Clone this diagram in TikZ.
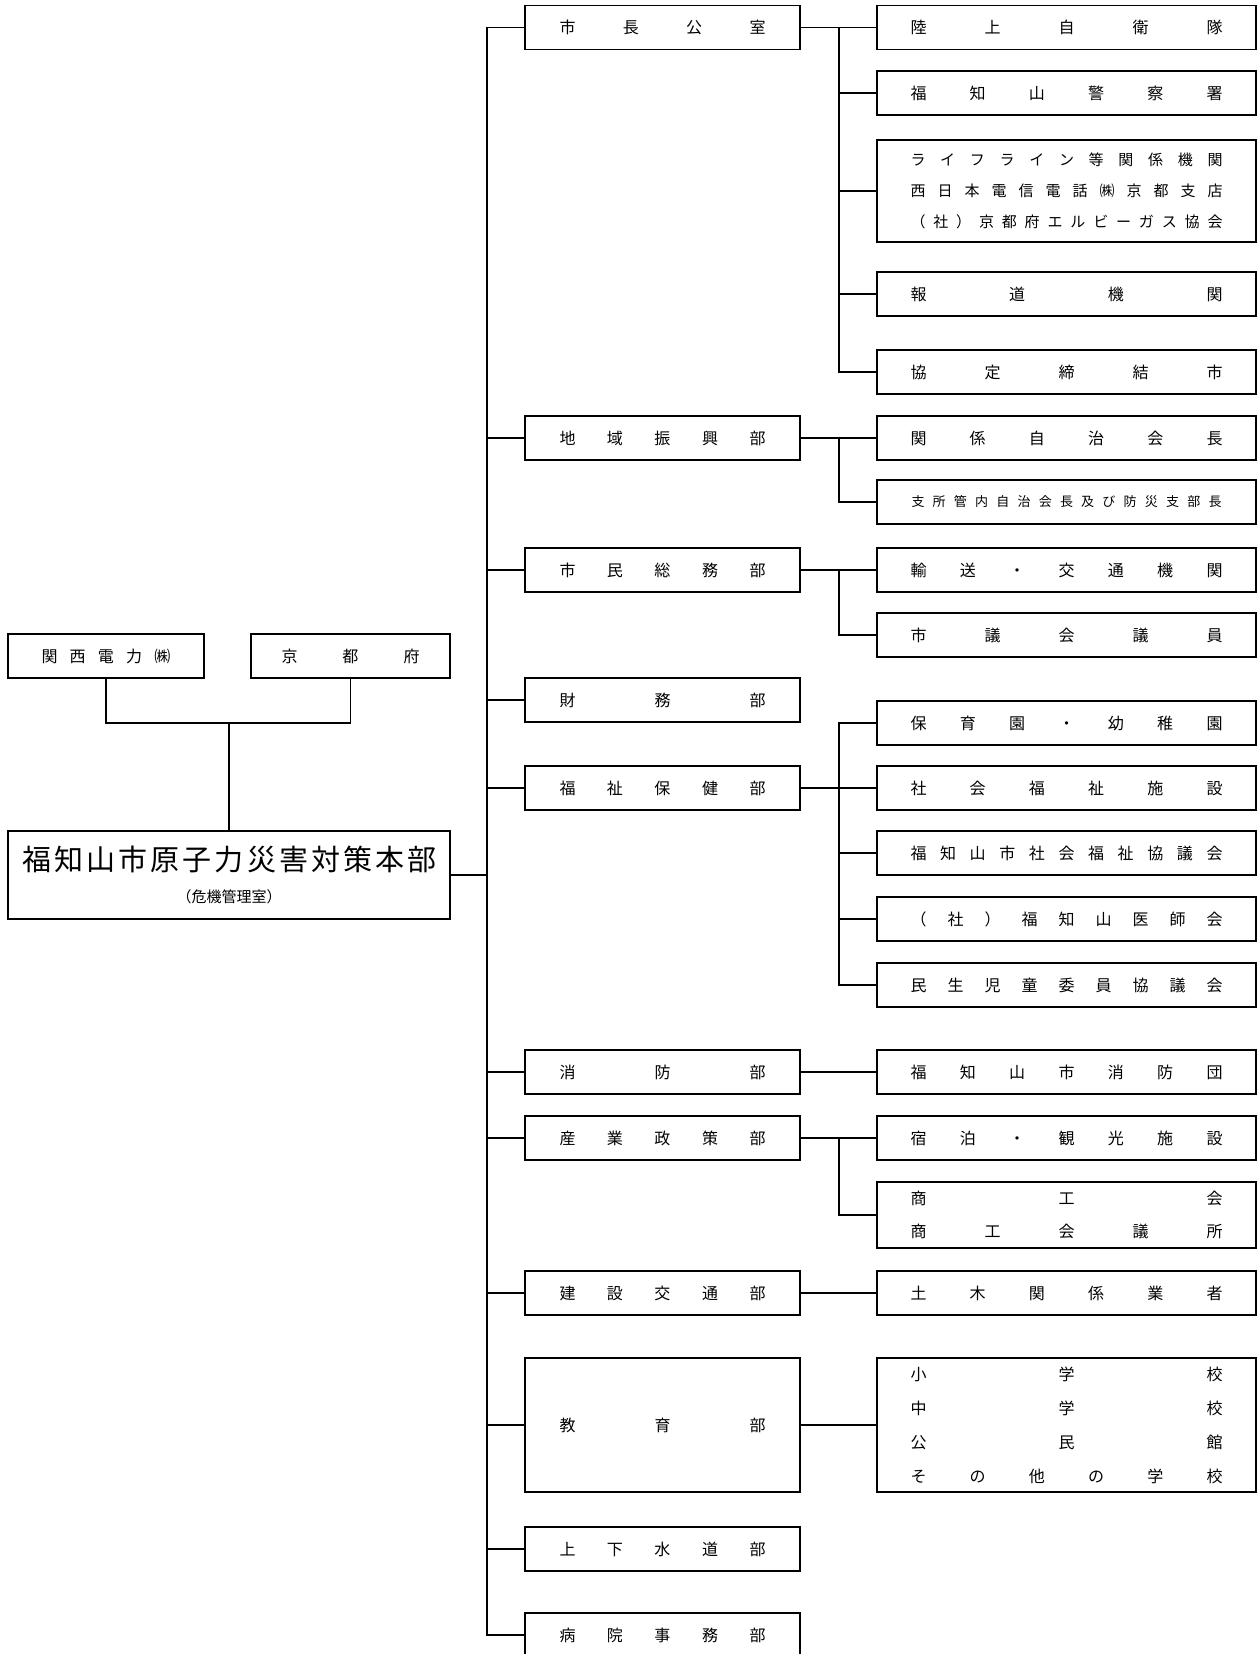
\documentclass[tikz,border=0pt]{standalone}
\usepackage{fontspec}
\setmainfont{Noto Sans CJK JP}
\makeatletter
\def\spr@a#1{#1\futurelet\spr@next\spr@b}
\def\spr@b{\ifx\spr@next\relax\expandafter\spr@end\else\hfill\expandafter\spr@a\fi}
\def\spr@end\relax{}
\newcommand\spreadtext[2]{\makebox[#1]{\spr@a#2\relax}}
\makeatother
\begin{document}
\begin{tikzpicture}[x=1pt,y=-1pt,
  box/.style={draw, line width=1.5pt, inner sep=0pt, align=center, font=\fontsize{16}{18}\selectfont},
  midbox/.style={box, minimum width=275pt, minimum height=44pt},
  rbox/.style={box, minimum width=379pt, minimum height=44pt},
  link/.style={line width=1.5pt}]
\fill[white] (0,0) rectangle (1260,1654);
\useasboundingbox (0,0) rectangle (1260,1654);

% top-left
\node[box, minimum width=196pt, minimum height=44pt] (kansai) at (106,656) {\spreadtext{129pt}{関西電力㈱}};
\node[box, minimum width=199pt, minimum height=44pt] (kyoto) at (350.5,656) {\spreadtext{138pt}{京都府}};
\node[box, minimum width=442pt, minimum height=88pt] (hq) at (229,875) {};
\node[font=\fontsize{29}{31}\selectfont, inner sep=0pt] (hqtitle) at (229.5,859) {\spreadtext{415pt}{福知山市原子力災害対策本部}};
\node[font=\fontsize{15}{17}\selectfont, inner sep=0pt] (hqsub) at (229,897) {（危機管理室）};

% middle column
\node[midbox] (m1) at (662.5,27.5) {\spreadtext{206pt}{市長公室}};
\node[midbox] (m2) at (662.5,438) {\spreadtext{206pt}{地域振興部}};
\node[midbox] (m3) at (662.5,570) {\spreadtext{206pt}{市民総務部}};
\node[midbox] (m4) at (662.5,700) {\spreadtext{206pt}{財務部}};
\node[midbox] (m5) at (662.5,788) {\spreadtext{206pt}{福祉保健部}};
\node[midbox] (m6) at (662.5,1072) {\spreadtext{206pt}{消防部}};
\node[midbox] (m7) at (662.5,1138) {\spreadtext{206pt}{産業政策部}};
\node[midbox] (m8) at (662.5,1293) {\spreadtext{206pt}{建設交通部}};
\node[midbox, minimum height=134pt] (m9) at (662.5,1425) {\spreadtext{206pt}{教育部}};
\node[midbox] (m10) at (662.5,1549) {\spreadtext{206pt}{上下水道部}};
\node[midbox] (m11) at (662.5,1635) {\spreadtext{206pt}{病院事務部}};

% right column
\node[rbox] (r1) at (1066.5,27.5) {\spreadtext{312pt}{陸上自衛隊}};
\node[rbox] (r2) at (1066.5,93) {\spreadtext{312pt}{福知山警察署}};
\node[rbox, minimum height=102pt, font=\fontsize{15}{31}\selectfont] (r3) at (1066.5,191)
  {\spreadtext{312pt}{ライフライン等関係機関}\\\spreadtext{312pt}{西日本電信電話㈱京都支店}\\\spreadtext{312pt}{（社）京都府エルビーガス協会}};
\node[rbox] (r4) at (1066.5,294) {\spreadtext{312pt}{報道機関}};
\node[rbox] (r5) at (1066.5,372) {\spreadtext{312pt}{協定締結市}};
\node[rbox] (r6) at (1066.5,438) {\spreadtext{312pt}{関係自治会長}};
\node[rbox, font=\fontsize{13}{15}\selectfont] (r7) at (1066.5,502) {\spreadtext{310pt}{支所管内自治会長及び防災支部長}};
\node[rbox] (r8) at (1066.5,570) {\spreadtext{312pt}{輸送・交通機関}};
\node[rbox] (r9) at (1066.5,635) {\spreadtext{312pt}{市議会議員}};
\node[rbox] (r10) at (1066.5,723) {\spreadtext{312pt}{保育園・幼稚園}};
\node[rbox] (r11) at (1066.5,788) {\spreadtext{312pt}{社会福祉施設}};
\node[rbox] (r12) at (1066.5,853) {\spreadtext{312pt}{福知山市社会福祉協議会}};
\node[rbox] (r13) at (1066.5,919) {\spreadtext{312pt}{（社）福知山医師会}};
\node[rbox] (r14) at (1066.5,985) {\spreadtext{312pt}{民生児童委員協議会}};
\node[rbox] (r15) at (1066.5,1072) {\spreadtext{312pt}{福知山市消防団}};
\node[rbox] (r16) at (1066.5,1138) {\spreadtext{312pt}{宿泊・観光施設}};
\node[rbox, minimum height=66pt, font=\fontsize{16}{33}\selectfont] (r17) at (1066.5,1215)
  {\spreadtext{312pt}{商工会}\\\spreadtext{312pt}{商工会議所}};
\node[rbox] (r18) at (1066.5,1293) {\spreadtext{312pt}{土木関係業者}};
\node[rbox, minimum height=134pt, font=\fontsize{16}{34}\selectfont] (r19) at (1066.5,1425)
  {\spreadtext{312pt}{小学校}\\\spreadtext{312pt}{中学校}\\\spreadtext{312pt}{公民館}\\\spreadtext{312pt}{その他の学校}};

% connectors
\coordinate (J) at (229,723);
\coordinate (T) at (487,0);
\coordinate (B) at (839,0);
\draw[link] (kansai.south) |- (J);
\draw[link] (kyoto.south) |- (J);
\draw[link] (J) -- (hq.north);
\draw[link] (hq.east) -- (hq.east -| T);
\foreach \m in {m1,m2,m3,m4,m5,m6,m7,m8,m9,m10,m11}
  \draw[link] (hq.east -| T) |- (\m.west);

\draw[link] (m1.east) -- (r1.west);
\foreach \r in {r2,r3,r4,r5} \draw[link] (m1.east -| B) |- (\r.west);
\draw[link] (m2.east) -- (r6.west);
\draw[link] (m2.east -| B) |- (r7.west);
\draw[link] (m3.east) -- (r8.west);
\draw[link] (m3.east -| B) |- (r9.west);
\draw[link] (m5.east) -- (r11.west);
\foreach \r in {r10,r12,r13,r14} \draw[link] (m5.east -| B) |- (\r.west);
\draw[link] (m6.east) -- (r15.west);
\draw[link] (m7.east) -- (r16.west);
\draw[link] (m7.east -| B) |- (r17.west);
\draw[link] (m8.east) -- (r18.west);
\draw[link] (m9.east) -- (r19.west);
\end{tikzpicture}
\end{document}
